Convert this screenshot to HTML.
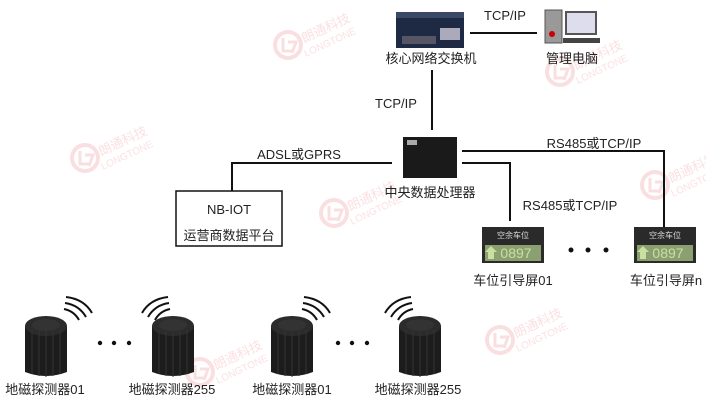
<!DOCTYPE html><html><head><meta charset="utf-8"><style>body{margin:0;background:#fff}svg{display:block}text{font-family:"Liberation Sans","Noto Sans CJK SC",sans-serif;font-size:13px;fill:#222}</style></head><body>
<svg width="706" height="400" viewBox="0 0 706 400">
<defs>
<g id="wm" opacity="0.15"><circle cx="0" cy="0" r="13" fill="none" stroke="#e03040" stroke-width="4"/><path d="M-5 -7 L-5 6 L5 6 M0 -3 L8 -3 L4 8" stroke="#e03040" stroke-width="3" fill="none"/><text x="16" y="-2" style="font-size:13px;fill:#e03040" transform="rotate(-25 16 -2)">朗通科技</text><text x="18" y="12" style="font-size:10px;fill:#e03040" transform="rotate(-25 18 12)">LONGTONE</text></g>
<g id="sens"><path d="M-21 8 L-21 54 Q0 62 21 54 L21 8 Z" fill="#1c1c1c"/><ellipse cx="0" cy="8" rx="21" ry="10" fill="#2b2b2b"/><ellipse cx="0" cy="7" rx="14" ry="6" fill="#333"/><path d="M-14 12 V56 M-7 13 V58 M0 14 V59 M7 13 V58 M14 12 V56" stroke="#333" stroke-width="1"/></g>
<g id="wav" fill="none" stroke="#111" stroke-width="2"><path d="M0 0 Q18 2 26 16"/><path d="M-1 6 Q13 8 20 20"/><path d="M-2 12 Q8 14 13 23"/></g>
<g id="scr"><rect x="0" y="0" width="62" height="36" fill="#2a2a2a"/><text x="31" y="11" text-anchor="middle" style="font-size:8px;fill:#ddd">空余车位</text><rect x="3" y="18" width="56" height="16" fill="#8aa070"/><text x="34" y="31" text-anchor="middle" style="font-size:14px;fill:#c8e0a0">0897</text><path d="M6 32 L6 25 L3 25 L9 19 L15 25 L12 25 L12 32 Z" fill="#c8e0a0"/></g>
</defs>
<use href="#wm" x="288" y="45"/><use href="#wm" x="560" y="72"/><use href="#wm" x="85" y="158"/><use href="#wm" x="334" y="213"/><use href="#wm" x="500" y="340"/><use href="#wm" x="200" y="372"/><use href="#wm" x="655" y="185"/>
<g stroke="#111" stroke-width="2" fill="none">
<path d="M470 33 H537"/><path d="M432 70 V130"/><path d="M392 163 H232 V191"/><path d="M462 151 H664 V228"/><path d="M462 163 H510 V221"/>
</g>
<rect x="176" y="191" width="106" height="55" fill="#fff" stroke="#111" stroke-width="1.5"/>
<text x="229" y="214" text-anchor="middle">NB-IOT</text><text x="229" y="240" text-anchor="middle">运营商数据平台</text>
<rect x="396" y="12" width="68" height="36" fill="#1e2a44"/><rect x="396" y="12" width="68" height="6" fill="#3a4a66"/><rect x="440" y="28" width="20" height="12" fill="#aab"/><rect x="402" y="36" width="34" height="8" fill="#556"/>
<text x="431" y="63" text-anchor="middle">核心网络交换机</text>
<text x="505" y="20" text-anchor="middle">TCP/IP</text>
<rect x="545" y="10" width="17" height="33" fill="#999" stroke="#555"/><circle cx="552" cy="34" r="3" fill="#c00"/><rect x="566" y="12" width="30" height="22" fill="#dde" stroke="#555" stroke-width="2"/><rect x="563" y="38" width="37" height="5" fill="#444"/>
<text x="572" y="63" text-anchor="middle">管理电脑</text>
<text x="396" y="108" text-anchor="middle">TCP/IP</text>
<rect x="403" y="137" width="54" height="41" fill="#1a1a1a"/><rect x="407" y="140" width="10" height="5" fill="#aaa"/>
<text x="430" y="197" text-anchor="middle">中央数据处理器</text>
<text x="299" y="159" text-anchor="middle">ADSL或GPRS</text>
<text x="594" y="148" text-anchor="middle">RS485或TCP/IP</text>
<text x="570" y="210" text-anchor="middle">RS485或TCP/IP</text>
<use href="#scr" x="482" y="227"/><use href="#scr" x="634" y="227"/>
<circle cx="571" cy="250" r="2.5" fill="#111"/><circle cx="588" cy="250" r="2.5" fill="#111"/><circle cx="606" cy="250" r="2.5" fill="#111"/>
<text x="513" y="285" text-anchor="middle">车位引导屏01</text><text x="666" y="285" text-anchor="middle">车位引导屏n</text>
<use href="#sens" x="46" y="318"/><use href="#sens" x="173" y="318"/><use href="#sens" x="292" y="318"/><use href="#sens" x="420" y="318"/>
<use href="#wav" x="66" y="297"/><use href="#wav" transform="translate(168 297) scale(-1 1)"/><use href="#wav" x="304" y="297"/><use href="#wav" transform="translate(411 297) scale(-1 1)"/>
<g fill="#111"><circle cx="100" cy="343" r="2.2"/><circle cx="114" cy="343" r="2.2"/><circle cx="129" cy="343" r="2.2"/><circle cx="338" cy="343" r="2.2"/><circle cx="352" cy="343" r="2.2"/><circle cx="367" cy="343" r="2.2"/></g>
<text x="45" y="394" text-anchor="middle">地磁探测器01</text><text x="172" y="394" text-anchor="middle">地磁探测器255</text><text x="292" y="394" text-anchor="middle">地磁探测器01</text><text x="418" y="394" text-anchor="middle">地磁探测器255</text>
</svg></body></html>
